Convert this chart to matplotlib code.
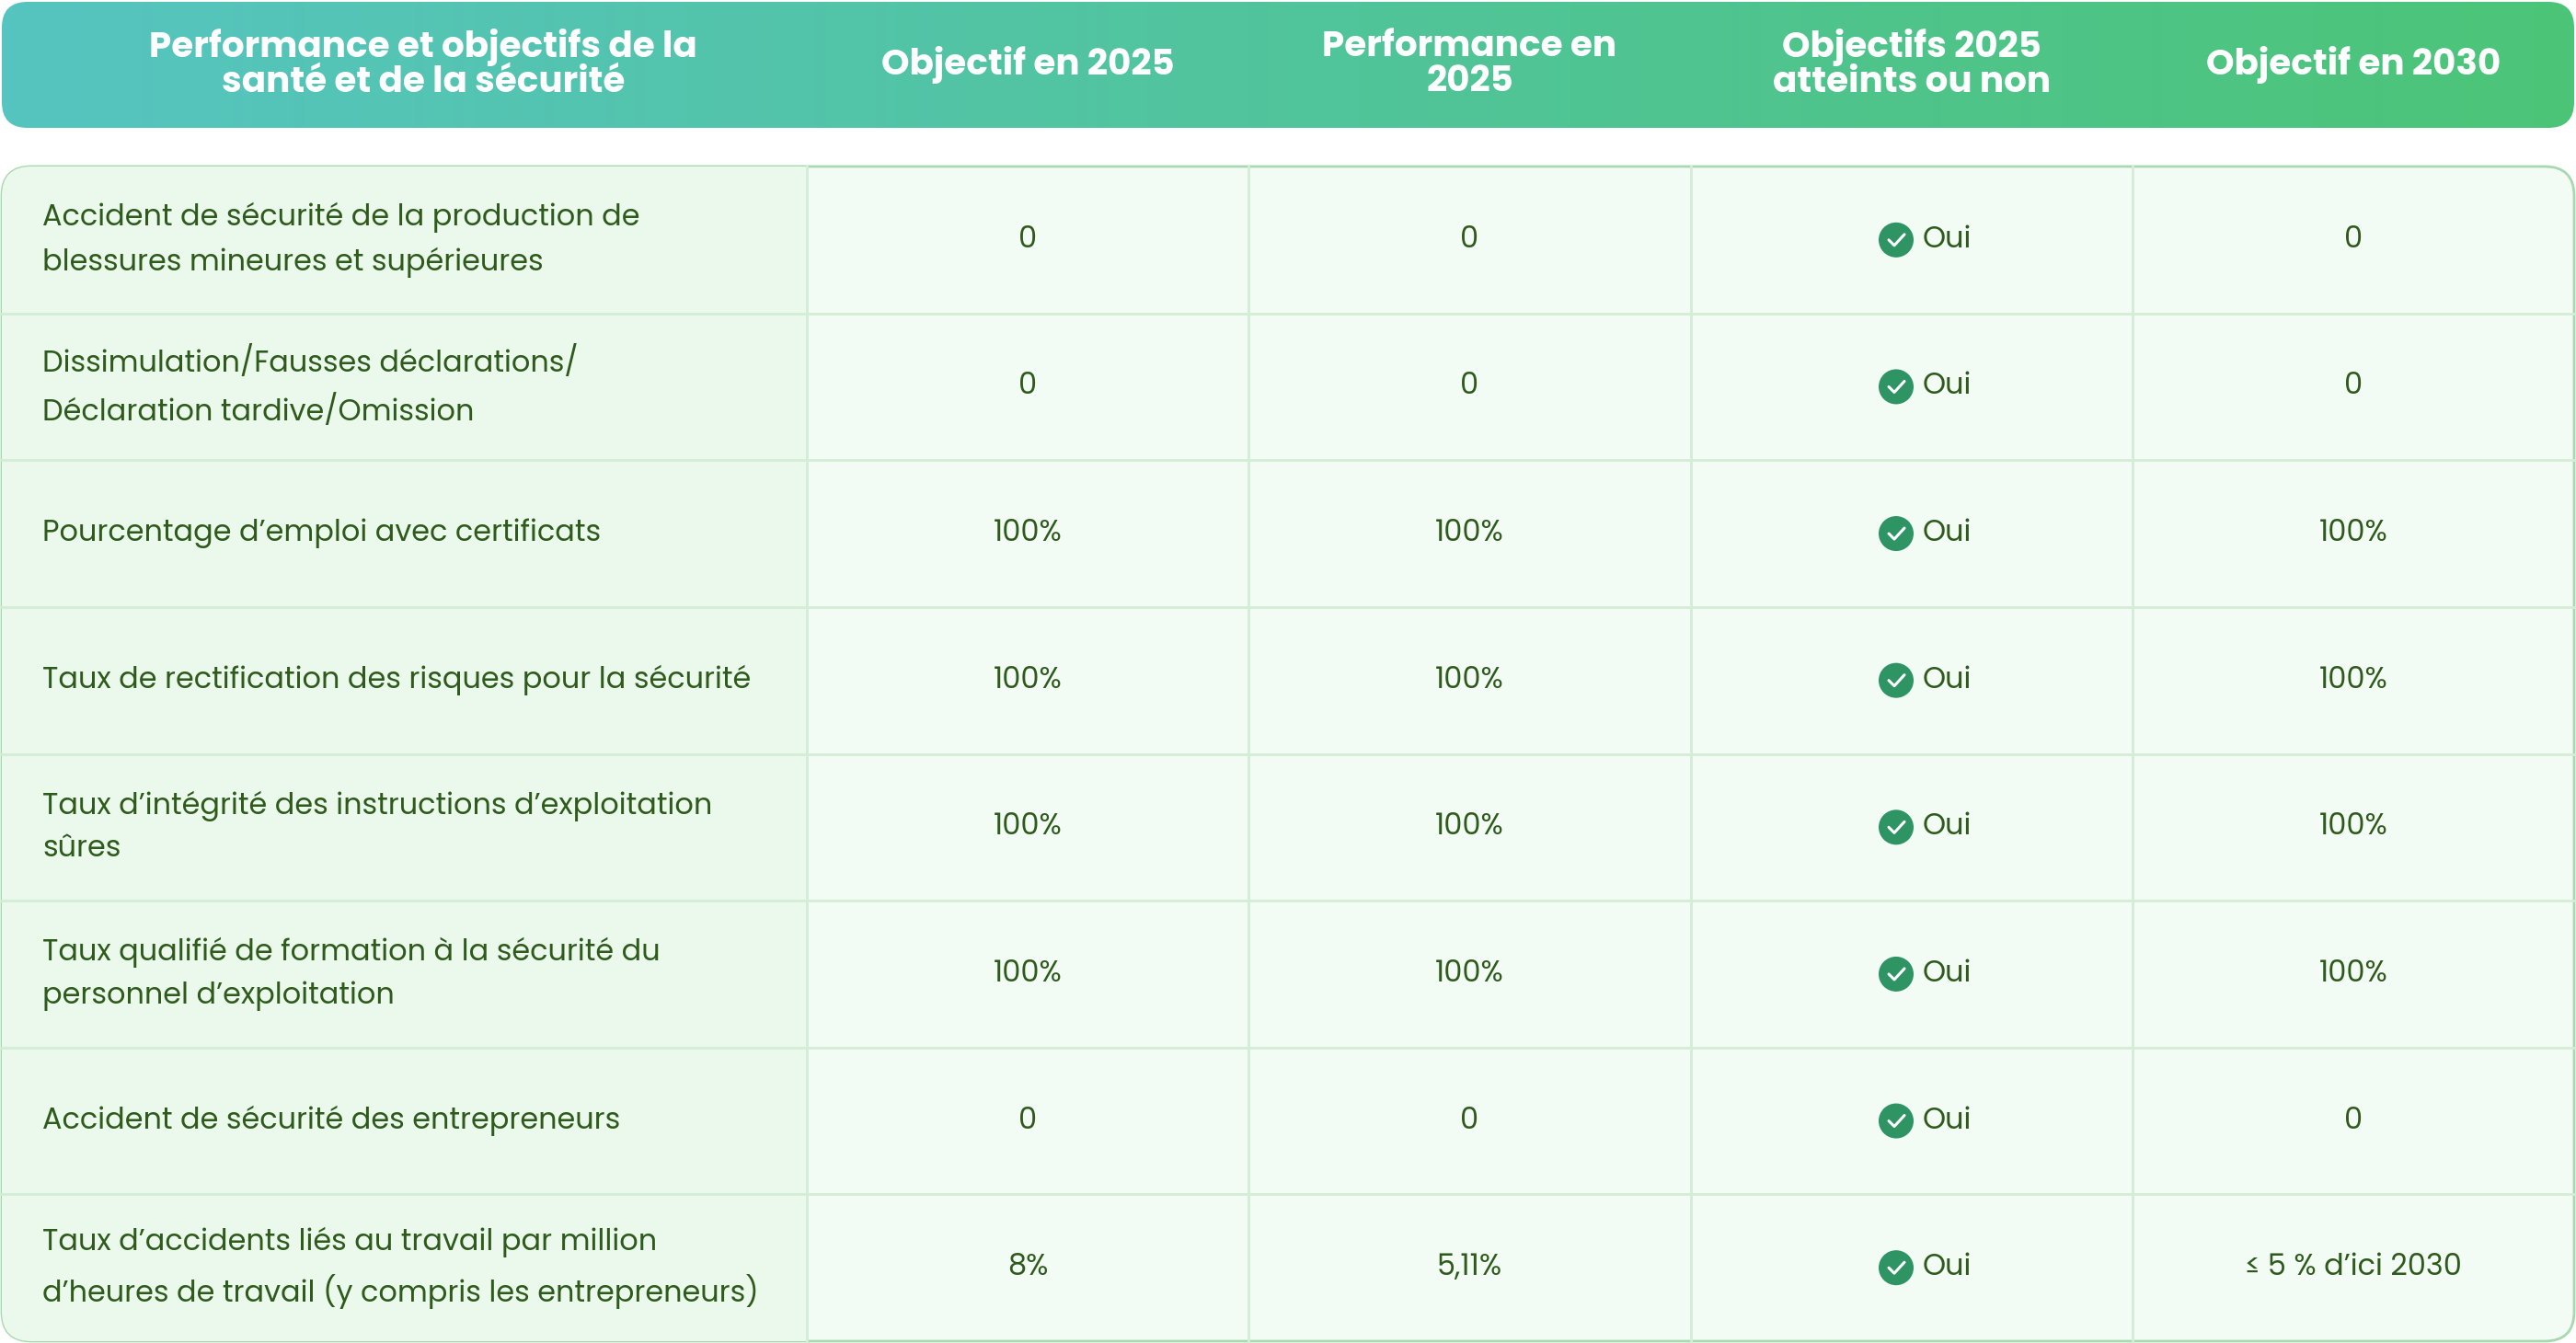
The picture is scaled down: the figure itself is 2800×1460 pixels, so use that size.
import numpy as np
import matplotlib.pyplot as plt
from matplotlib.patches import FancyBboxPatch, Circle, Rectangle

headers = ["Performance et objectifs de la\nsanté et de la sécurité", "Objectif en 2025",
           "Performance en\n2025", "Objectifs 2025\natteints ou non", "Objectif en 2030"]
indicators = [
    "Accident de sécurité de la production de\nblessures mineures et supérieures",
    "Dissimulation/Fausses déclarations/\nDéclaration tardive/Omission",
    "Pourcentage d’emploi avec certificats",
    "Taux de rectification des risques pour la sécurité",
    "Taux d’intégrité des instructions d’exploitation\nsûres",
    "Taux qualifié de formation à la sécurité du\npersonnel d’exploitation",
    "Accident de sécurité des entrepreneurs",
    "Taux d’accidents liés au travail par million\nd’heures de travail (y compris les entrepreneurs)",
]
target_2025 = ["0", "0", "100%", "100%", "100%", "100%", "0", "8%"]
perf_2025 = ["0", "0", "100%", "100%", "100%", "100%", "0", "5,11%"]
achieved = ["Oui"] * 8
target_2030 = ["0", "0", "100%", "100%", "100%", "100%", "0", "≤ 5 % d’ici 2030"]

W, H = 2800, 1460
col_edges = [2, 877, 1357, 1838, 2318, 2798]
head_top, head_bot = 2, 139
tab_top, tab_bot = 181, 1458
row_h = (tab_bot - tab_top) / len(indicators)

plt.rcParams['font.family'] = ['Poppins', 'Lato', 'DejaVu Sans']
fig = plt.figure(figsize=(28, 14.6), dpi=100)
ax = fig.add_axes([0, 0, 1, 1])
ax.set_xlim(0, W)
ax.set_ylim(H, 0)
ax.axis('off')

# header with gradient
hdr = FancyBboxPatch((col_edges[0], head_top), col_edges[-1] - col_edges[0], head_bot - head_top,
                     boxstyle="round,pad=0,rounding_size=28", fc='none', ec='none')
ax.add_patch(hdr)
c1 = np.array([0x56, 0xC4, 0xC0]) / 255
c2 = np.array([0x4C, 0xC4, 0x78]) / 255
t = np.linspace(0, 1, 256)[None, :, None]
grad = c1 * (1 - t) + c2 * t
im = ax.imshow(grad, extent=(col_edges[0], col_edges[-1], head_bot, head_top), aspect='auto', zorder=1)
im.set_clip_path(hdr)
for i, h in enumerate(headers):
    cx = (col_edges[i] + col_edges[i + 1]) / 2 - (0 if i else 0)
    if i == 0:
        cx = 460
    ax.text(cx, (head_top + head_bot) / 2, h, ha='center', va='center', color='white',
            fontsize=28, fontweight='bold', linespacing=0.95, zorder=2)

# table body
body = FancyBboxPatch((col_edges[0], tab_top), col_edges[-1] - col_edges[0], tab_bot - tab_top,
                      boxstyle="round,pad=0,rounding_size=32", fc='#F3FBF5', ec='#A8D8B0', lw=2, zorder=1)
ax.add_patch(body)
first = Rectangle((col_edges[0], tab_top), col_edges[1] - col_edges[0], tab_bot - tab_top,
                  fc='#EBF9EC', ec='none', zorder=1)
ax.add_patch(first)
first.set_clip_path(body)
for x in col_edges[1:-1]:
    ax.plot([x, x], [tab_top, tab_bot], color='#D3EDD6', lw=2, zorder=2)
for r in range(1, len(indicators)):
    y = tab_top + r * row_h
    ax.plot([col_edges[0], col_edges[-1]], [y, y], color='#D3EDD6', lw=2, zorder=2)

txt = '#2E5A1C'
for r in range(len(indicators)):
    yc = tab_top + (r + 0.5) * row_h
    ax.text(46, yc, indicators[r], ha='left', va='center', color=txt, fontsize=23,
            linespacing=1.6, zorder=3)
    for c, vals in ((1, target_2025), (2, perf_2025), (4, target_2030)):
        ax.text((col_edges[c] + col_edges[c + 1]) / 2, yc, vals[r], ha='center', va='center',
                color=txt, fontsize=23, zorder=3)
    cx = (col_edges[3] + col_edges[4]) / 2
    ax.add_patch(Circle((cx - 17, yc), 19, fc='#2E9464', ec='none', zorder=3))
    ax.plot([cx - 25, cx - 19, cx - 8], [yc, yc + 6, yc - 6], color='white', lw=2.2,
            solid_capstyle='round', zorder=4)
    ax.text(cx + 12, yc, achieved[r], ha='left', va='center', color=txt, fontsize=23, zorder=3)

fig.savefig('out.png', dpi=100)
